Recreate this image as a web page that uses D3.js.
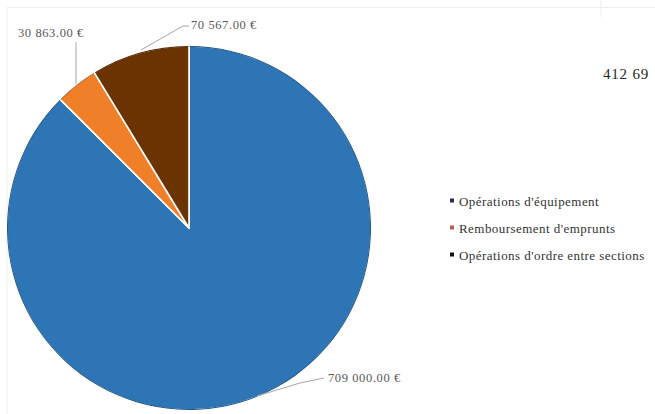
<!DOCTYPE html>
<html><head><meta charset="utf-8">
<script src="https://cdn.jsdelivr.net/npm/d3@7"></script>
<style>
html,body{margin:0;padding:0;background:#fff;}
svg{display:block;}
text{font-family:"Liberation Serif","DejaVu Serif",serif;}
</style></head>
<body>
<svg id="c" width="655" height="414"></svg>
<script>
const categories = ["Opérations d'équipement", "Remboursement d'emprunts", "Opérations d'ordre entre sections"];
const values = [709000, 30863, 70567];
const valueLabels = ["709 000.00 €", "30 863.00 €", "70 567.00 €"];
const colors = ["#2E75B6", "#F07F2A", "#6B3300"];
const sideNote = "412 69";

const svg = d3.select("#c");

// faint frame lines
const frame = [
  [[7, 420], [7, 7.5], [601, 7.5]],
  [[601, 0], [601, 17]],
  [[601, 7.5], [655, 7.5]]
];
frame.forEach(pts => svg.append("polyline")
  .attr("points", pts.map(p => p.join(",")).join(" "))
  .attr("fill", "none").attr("stroke", "#eeeeee").attr("stroke-width", 1));

const cx = 189, cy = 228, r = 182;
const g = svg.append("g").attr("transform", `translate(${cx},${cy})`);
const pie = d3.pie().sort(null).value(d => d)(values);
const arc = d3.arc().innerRadius(0).outerRadius(r);

g.selectAll("path.slice").data(pie).join("path")
  .attr("class", "slice")
  .attr("d", arc)
  .attr("fill", (d, i) => colors[i])
  .attr("stroke", "#fff").attr("stroke-width", 1.6).attr("stroke-linejoin", "round");

// dark outline along the outer edge
const outline = d3.arc().innerRadius(r - 1).outerRadius(r);
g.selectAll("path.edge").data(pie).join("path")
  .attr("class", "edge")
  .attr("d", d => outline({startAngle: d.startAngle + 0.004, endAngle: d.endAngle - 0.004}))
  .attr("fill", (d, i) => d3.color(colors[i]).darker(0.8));

// labels with leader lines
const labelPos = [
  {tx: 328, ty: 382},
  {tx: 18, ty: 37},
  {tx: 191, ty: 29}
];
const leaders = [
  [[257, 396], [300, 383], [324, 378]],
  [[76, 84], [76, 42]],
  [[141, 50], [183, 26], [189, 26]]
];
pie.forEach((d, i) => {
  svg.append("polyline")
    .attr("points", leaders[i].map(p => p.join(",")).join(" "))
    .attr("fill", "none").attr("stroke", "#a6a6a6").attr("stroke-width", 1);
  svg.append("text").attr("x", labelPos[i].tx).attr("y", labelPos[i].ty)
    .attr("font-size", 12.5).attr("letter-spacing", 0.6)
    .attr("fill", "#595959").text(valueLabels[i]);
});

// side note
svg.append("text").attr("x", 603).attr("y", 79).attr("font-size", 15).attr("letter-spacing", 0.8)
  .attr("fill", "#262626").text(sideNote);

// legend
const legendY = d3.scalePoint().domain(categories).range([201, 255]);
const lg = svg.append("g");
categories.forEach((c, i) => {
  const y = legendY(c);
  lg.append("rect").attr("x", 450).attr("y", y - 2.5).attr("width", 4).attr("height", 4)
    .attr("fill", i === 0 ? "#2b2b5a" : i === 1 ? "#b06050" : "#111");
  lg.append("text").attr("x", 459).attr("y", y + 4.5).attr("font-size", 13).attr("letter-spacing", 0.45)
    .attr("fill", "#333").text(c);
});
</script>
</body></html>
